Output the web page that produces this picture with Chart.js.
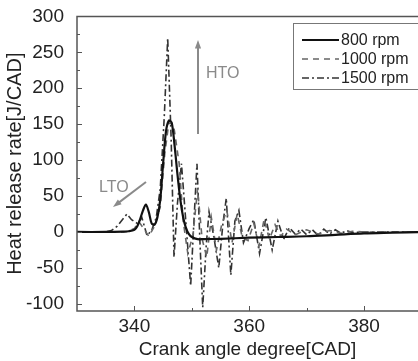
<!DOCTYPE html>
<html lang="en">
<head>
<meta charset="UTF-8">
<title>Heat release rate</title>
<script src="https://cdn.jsdelivr.net/npm/chart.js"></script>
<style>
  body { margin: 0; background: #fff; }
  canvas { display: block; }
</style>
</head>
<body>
<canvas id="hrr" width="418" height="361"></canvas>
<script>
// crank angle [CAD] and heat release rate [J/CAD]
var angles800 = [330, 335, 338, 339, 340, 340.5, 341, 341.5, 342, 342.5, 343, 343.5, 344, 344.5, 345, 345.5, 346, 346.5, 347, 347.5, 348, 348.5, 349, 349.5, 350, 351, 352, 355, 360, 365, 370, 375, 380, 385, 390];
var hrr800 = [0, 0, 0.5, 1, 3, 8, 18, 30, 38, 28, 12, 10, 20, 45, 95, 140, 155, 152, 120, 80, 45, 20, 5, -3, -7, -10, -10, -9.5, -8, -7, -6, -4, -2, -1, 0];

var angles1000 = [330, 338, 339, 340, 340.8, 341.5, 342.5, 343.5, 344.5, 345.3, 346, 346.8, 347.8, 348.5, 349.3, 350.2, 351, 351.8, 352.6, 353.4, 354.3, 355.2, 356.1, 357, 357.9, 358.8, 359.8, 360.8, 361.7, 362.6, 363.5, 364.5, 365.5, 366.5, 368, 370, 372, 374, 376, 378, 380, 385, 390];
var hrr1000 = [0, 0, 1, 5, 14, 6, -6, 8, 35, 110, 152, 150, 95, 15, -30, -5, 60, -10, -35, 20, -25, 10, 30, -15, 25, -8, -12, 12, -20, 18, -10, 10, -6, 4, -4, 3, -3, 2, -2, 1, 0, 0, 0];

var angles1500 = [330, 335, 336, 337, 338, 338.7, 339.5, 340.5, 341.3, 342.2, 343, 343.8, 344.5, 345.2, 345.8, 346.4, 346.9, 347.5, 348.2, 349, 349.8, 350.4, 350.9, 351.4, 351.9, 352.5, 353, 353.8, 354.7, 355.4, 356, 356.8, 357.5, 358.2, 359, 360, 360.8, 361.8, 362.9, 364, 365, 366, 367, 368, 369, 370, 371, 372, 373, 374, 375, 376, 377, 378, 380, 385, 390];
var hrr1500 = [0, 0, 2, 8, 18, 25, 17, 12, 20, -5, 2, 20, 60, 160, 270, 130, -35, 40, 95, 10, -75, 20, 95, -10, -105, -20, 28, -5, -50, 10, 47, -60, 15, 30, -15, 5, 17, -30, 20, -25, 15, -10, 6, -3, 4, -4, 3, -5, 4, -3, 3, -2, 2, -1, 0, 0, 0];

var seriesNames = ['800 rpm', '1000 rpm', '1500 rpm'];
var xTickValues = [340, 350, 360, 370, 380];
var yTickValues = [-100, -75, -50, -25, 0, 25, 50, 75, 100, 125, 150, 175, 200, 225, 250, 275, 300];

function pts(xs, ys) {
  return xs.map(function (x, i) { return { x: x, y: ys[i] }; });
}

var FONT = "'Liberation Sans', Arial, sans-serif";
var frameColor = '#555';
var noteColor = '#8a8a8a';

function arrow(ctx, x1, y1, x2, y2) {
  var a = Math.atan2(y2 - y1, x2 - x1), h = 9;
  ctx.beginPath();
  ctx.moveTo(x1, y1);
  ctx.lineTo(x2 - Math.cos(a) * 6, y2 - Math.sin(a) * 6);
  ctx.stroke();
  ctx.beginPath();
  ctx.moveTo(x2, y2);
  ctx.lineTo(x2 - h * Math.cos(a - 0.35), y2 - h * Math.sin(a - 0.35));
  ctx.lineTo(x2 - h * Math.cos(a + 0.35), y2 - h * Math.sin(a + 0.35));
  ctx.closePath();
  ctx.fill();
}

var extras = {
  id: 'extras',
  afterDraw: function (chart) {
    var ctx = chart.ctx, a = chart.chartArea;
    var xs = chart.scales.x, ys = chart.scales.y;
    ctx.save();
    // frame: top, left, bottom
    ctx.strokeStyle = frameColor;
    ctx.lineWidth = 1.5;
    ctx.beginPath();
    ctx.moveTo(a.right, a.top);
    ctx.lineTo(a.left, a.top);
    ctx.lineTo(a.left, a.bottom);
    ctx.lineTo(a.right, a.bottom);
    ctx.stroke();
    // inward ticks
    ctx.lineWidth = 1;
    ctx.beginPath();
    xTickValues.forEach(function (v) {
      var px = Math.round(xs.getPixelForValue(v)) + 0.5;
      var len = (v % 20 === 0) ? 5 : 3;
      ctx.moveTo(px, a.bottom);
      ctx.lineTo(px, a.bottom - len);
    });
    yTickValues.forEach(function (v) {
      var py = Math.round(ys.getPixelForValue(v)) + 0.5;
      var len = (v % 50 === 0) ? 5 : 3;
      ctx.moveTo(a.left, py);
      ctx.lineTo(a.left + len, py);
    });
    ctx.stroke();

    // annotations
    ctx.strokeStyle = noteColor;
    ctx.fillStyle = noteColor;
    ctx.lineWidth = 2;
    arrow(ctx, 198, 134, 198, 40);
    arrow(ctx, 146, 182, 113, 207);
    ctx.font = '16px ' + FONT;
    ctx.textBaseline = 'middle';
    ctx.textAlign = 'left';
    ctx.fillText('HTO', 206, 74);
    ctx.fillText('LTO', 99, 188);

    // legend
    var bx = 293, by = 23, bw = 130, bh = 66;
    ctx.strokeStyle = '#777';
    ctx.lineWidth = 1;
    ctx.strokeRect(bx + 0.5, by + 0.5, bw, bh);
    var rows = [40, 59, 78];
    chart.data.datasets.forEach(function (ds, i) {
      ctx.strokeStyle = ds.borderColor;
      ctx.lineWidth = ds.borderWidth;
      ctx.setLineDash(ds.borderDash || []);
      ctx.beginPath();
      ctx.moveTo(302, rows[i]);
      ctx.lineTo(339, rows[i]);
      ctx.stroke();
      ctx.setLineDash([]);
      ctx.fillStyle = '#222';
      ctx.font = '16px ' + FONT;
      ctx.fillText(ds.label, 341, rows[i] + 1);
    });
    ctx.restore();
  }
};

new Chart(document.getElementById('hrr'), {
  type: 'line',
  data: {
    datasets: [
      { label: seriesNames[0], data: pts(angles800, hrr800), borderColor: '#111', borderWidth: 2.2, pointRadius: 0, tension: 0.3, fill: false },
      { label: seriesNames[1], data: pts(angles1000, hrr1000), borderColor: '#666', borderWidth: 1.6, borderDash: [6, 5], pointRadius: 0, tension: 0, fill: false },
      { label: seriesNames[2], data: pts(angles1500, hrr1500), borderColor: '#333', borderWidth: 1.6, borderDash: [7, 3, 2, 3], pointRadius: 0, tension: 0, fill: false }
    ]
  },
  options: {
    responsive: false,
    animation: false,
    devicePixelRatio: 1,
    layout: { padding: { top: 15, right: 0, left: 0, bottom: 0 } },
    plugins: { legend: { display: false }, tooltip: { enabled: false } },
    scales: {
      x: {
        type: 'linear',
        min: 330,
        max: 389.4,
        grid: { display: false },
        border: { display: false },
        ticks: { stepSize: 20, includeBounds: false, padding: -4, color: '#222', font: { family: FONT, size: 19 } },
        title: { display: true, text: 'Crank angle degree[CAD]', color: '#222', padding: { top: 0, bottom: 0 }, font: { family: FONT, size: 19 } },
        afterFit: function (s) { s.height = 50; }
      },
      y: {
        min: -110,
        max: 300,
        grid: { display: false },
        border: { display: false },
        ticks: { stepSize: 50, includeBounds: false, padding: 5, color: '#222', font: { family: FONT, size: 19 } },
        title: { display: true, text: 'Heat release rate[J/CAD]', color: '#222', padding: { top: 3, bottom: 0 }, font: { family: FONT, size: 20 } },
        afterFit: function (s) { s.width = 77; }
      }
    }
  },
  plugins: [extras]
});
</script>
</body>
</html>
